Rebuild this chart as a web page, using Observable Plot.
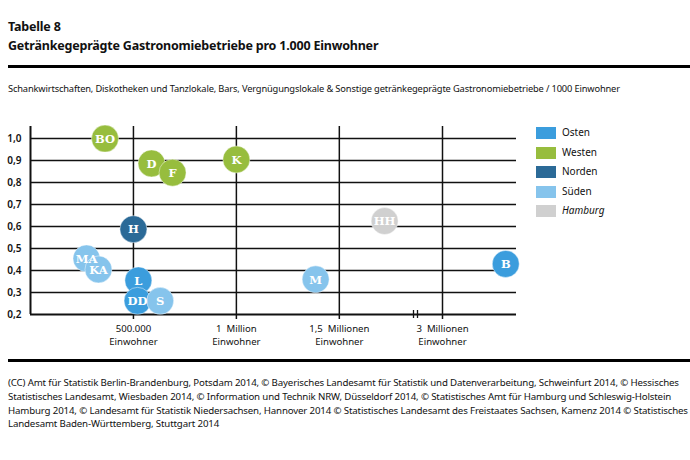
<!DOCTYPE html>
<html>
<head>
<meta charset="utf-8">
<script src="https://cdn.jsdelivr.net/npm/d3@7"></script>
<script src="https://cdn.jsdelivr.net/npm/@observablehq/plot@0.6"></script>
<style>
  html, body { margin: 0; padding: 0; background: #fff; }
  body { width: 690px; height: 460px; position: relative; overflow: hidden; font-family: "Noto Sans", sans-serif; color: #111; }
  .abs { position: absolute; }
  #title { left: 8px; top: 17px; font-weight: bold; font-size: 12.5px; line-height: 19px; letter-spacing: -0.2px; }
  .rule { left: 8px; right: 0; height: 3px; background: #000; }
  #sub { left: 8px; top: 84px; font-size: 9.3px; line-height: 10px; letter-spacing: -0.15px; white-space: nowrap; }
  #chart { left: 0; top: 100px; }
  #legend { left: 536px; top: 127px; }
  .li { position: absolute; left: 0; width: 140px; height: 12px; }
  .sw { position: absolute; left: 0; top: 0; width: 20px; height: 12px; }
  .lt { position: absolute; left: 26px; top: -1px; font-size: 10px; line-height: 13px; }
  #foot { left: 8px; top: 376px; width: 682px; font-size: 9.7px; line-height: 13.8px; letter-spacing: -0.15px; }
</style>
</head>
<body>
<div id="title" class="abs"></div>
<div class="abs rule" style="top:65px"></div>
<div id="sub" class="abs"></div>
<div id="chart" class="abs"></div>
<div id="legend" class="abs"></div>
<div class="abs rule" style="top:359px"></div>
<div id="foot" class="abs"></div>
<script>
// ---- Texts ----
const titleLines = ["Tabelle 8", "Getränkegeprägte Gastronomiebetriebe pro 1.000 Einwohner"];
const subtitle = "Schankwirtschaften, Diskotheken und Tanzlokale, Bars, Vergnügungslokale & Sonstige getränkegeprägte Gastronomiebetriebe / 1000 Einwohner";
const footnote = "(CC) Amt für Statistik Berlin-Brandenburg, Potsdam 2014, © Bayerisches Landesamt für Statistik und Datenverarbeitung, Schweinfurt 2014, © Hessisches Statistisches Landesamt, Wiesbaden 2014, © Information und Technik NRW, Düsseldorf 2014, © Statistisches Amt für Hamburg und Schleswig-Holstein Hamburg 2014, © Landesamt für Statistik Niedersachsen, Hannover 2014 © Statistisches Landesamt des Freistaates Sachsen, Kamenz 2014 © Statistisches Landesamt Baden-Württemberg, Stuttgart 2014";

// ---- Legend / regions ----
const regions = ["Osten", "Westen", "Norden", "Süden", "Hamburg"];
const regionColors = ["#3b9ddd", "#97bd3e", "#2b6a97", "#86c4ec", "#d0d0d0"];

// ---- Data ----
const cities = ["BO", "D", "F", "K", "H", "MA", "KA", "L", "DD", "S", "M", "HH", "B"];
const cityRegion = ["Westen", "Westen", "Westen", "Westen", "Norden", "Süden", "Süden", "Osten", "Osten", "Süden", "Süden", "Hamburg", "Osten"];
const population = [362000, 588000, 690000, 1000000, 500000, 272000, 330000, 524000, 520000, 630000, 1385000, 1720000, 3470000];
const perThousand = [1.0, 0.887, 0.845, 0.905, 0.588, 0.455, 0.405, 0.355, 0.262, 0.262, 0.36, 0.625, 0.43];

// ---- Axes ----
const yTicks = [0.2, 0.3, 0.4, 0.5, 0.6, 0.7, 0.8, 0.9, 1.0];
const xTicks = [500000, 1000000, 1500000, 3000000];
const xTickLabels = ["500.000\nEinwohner", "1  Million\nEinwohner", "1,5  Millionen\nEinwohner", "3  Millionen\nEinwohner"];
const xBreak = 1870000;   // axis break between 1,5 and 3 Millionen
const xMax = 3550000;
const yMax = 1.055;

// broken (piecewise) population axis: compress the gap between the break and 3 Mio.
const warp = d3.scaleLinear().domain([0, xBreak, 3000000, xMax]).range([0, 385, 412, 486]);

document.getElementById("title").innerHTML = titleLines.join("<br>");
document.getElementById("sub").textContent = subtitle;
document.getElementById("foot").textContent = footnote;

const legend = document.getElementById("legend");
regions.forEach((r, i) => {
  const row = document.createElement("div");
  row.className = "li";
  row.style.top = (i * 19.6) + "px";
  row.innerHTML = `<div class="sw" style="background:${regionColors[i]}"></div><div class="lt" style="${r === "Hamburg" ? "font-style:italic" : ""}">${r}</div>`;
  legend.appendChild(row);
});

const data = cities.map((c, i) => ({city: c, region: cityRegion[i], pos: warp(population[i]), value: perThousand[i]}));
const ticks = xTicks.map((x, i) => ({pos: warp(x), label: xTickLabels[i]}));
const tickPos = xTicks.map(warp);
const gridY = yTicks.filter(d => d > 0.2);
const x0 = warp(0), xEnd = warp(xMax), xB = warp(xBreak);

const chart = Plot.plot({
  width: 690,
  height: 250,
  marginTop: 26,
  marginBottom: 36,
  marginLeft: 30,
  marginRight: 174,
  style: {fontFamily: "Noto Sans, sans-serif", color: "#111", background: "transparent"},
  x: {domain: [x0, xEnd], axis: null},
  y: {domain: [0.2, yMax], axis: null},
  color: {domain: regions, range: regionColors},
  marks: [
    Plot.ruleY(gridY, {x1: x0, x2: xEnd, stroke: "#111", strokeWidth: 1.5}),
    Plot.ruleX(tickPos, {y1: yMax, y2: 0.2, stroke: "#111", strokeWidth: 1.5, insetBottom: -5}),
    Plot.ruleX([x0], {y1: yMax, y2: 0.2, stroke: "#111", strokeWidth: 2}),
    Plot.ruleY([0.2], {x1: x0, x2: xEnd, stroke: "#111", strokeWidth: 2}),
    Plot.ruleX([xB], {y1: 0.2, y2: 0.2, insetTop: -4, insetBottom: -4, dx: -2, stroke: "#111", strokeWidth: 1.3}),
    Plot.ruleX([xB], {y1: 0.2, y2: 0.2, insetTop: -4, insetBottom: -4, dx: 2, stroke: "#111", strokeWidth: 1.3}),
    Plot.axisY(yTicks, {label: null, tickSize: 0, tickPadding: 9, fontSize: 10, fontWeight: 600, tickFormat: d => d.toFixed(1).replace(".", ","), fill: "#111"}),
    Plot.text(ticks, {x: "pos", y: () => 0.2, text: "label", dy: 8, lineAnchor: "top", fontSize: 9.6, lineHeight: 1.4, fill: "#111"}),
    Plot.dot(data, {x: "pos", y: "value", r: 13.5, fill: "region", stroke: "#fff", strokeOpacity: 0.45, strokeWidth: 1}),
    Plot.text(data, {x: "pos", y: "value", text: "city", fill: "#fff", fontWeight: "bold", fontFamily: "DejaVu Serif", fontSize: 11.5, dy: 0.5})
  ]
});
document.getElementById("chart").appendChild(chart);
</script>
</body>
</html>
